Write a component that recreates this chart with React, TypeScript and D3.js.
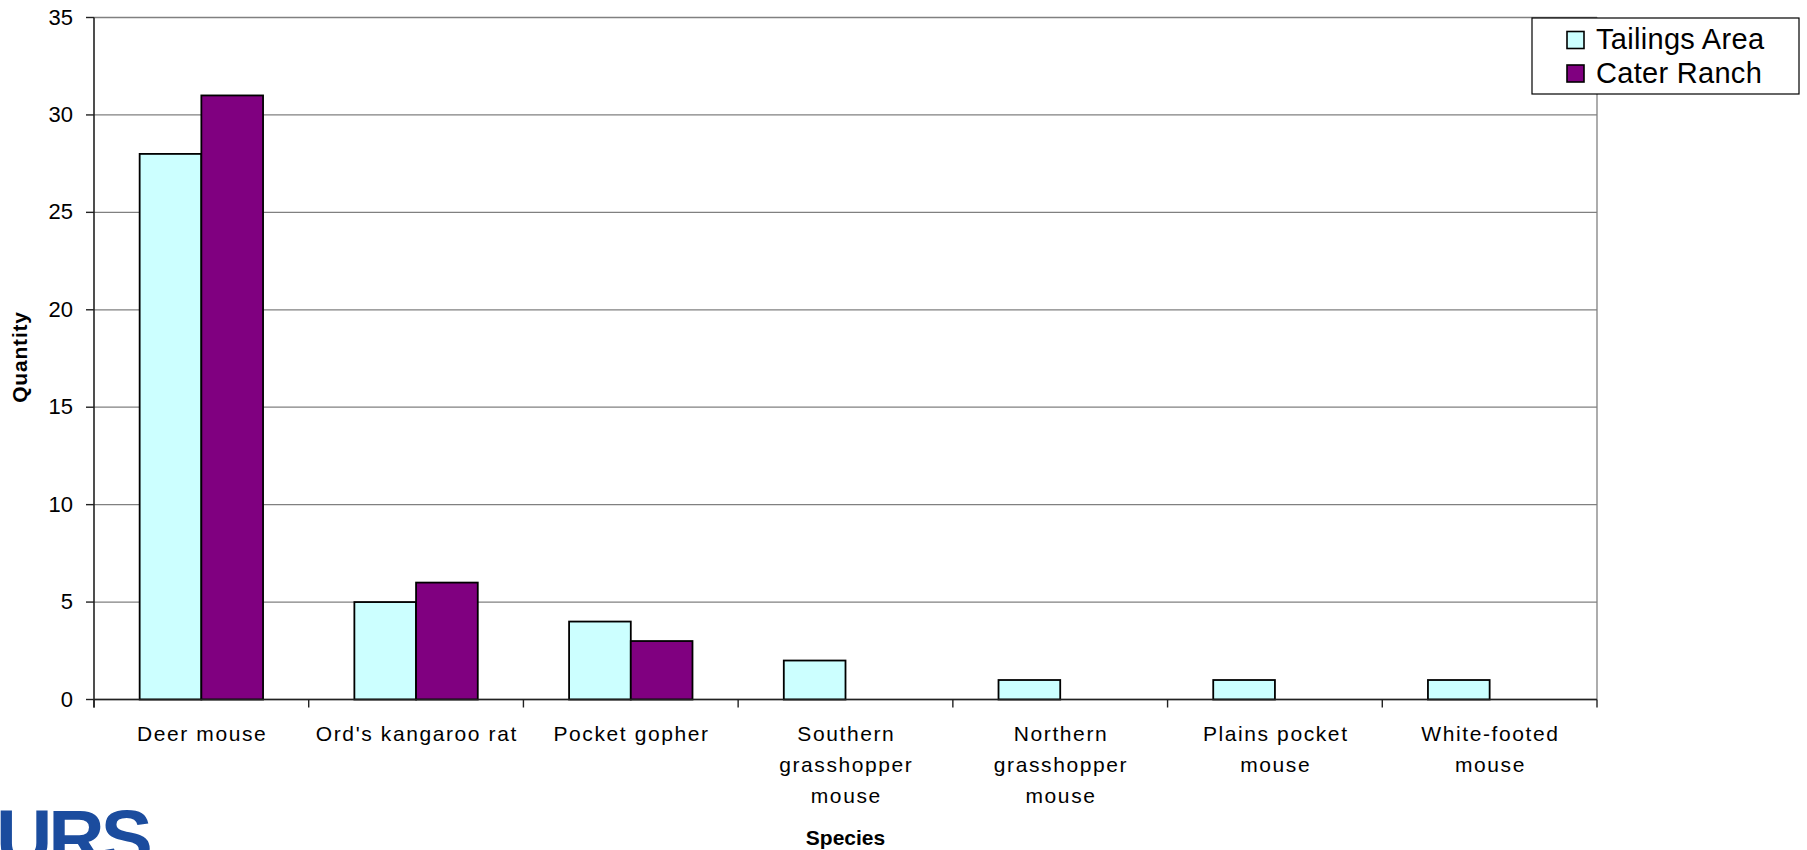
import React from 'react';
import * as d3 from 'd3';

const categories = [
  "Deer mouse",
  "Ord's kangaroo rat",
  "Pocket gopher",
  "Southern grasshopper mouse",
  "Northern grasshopper mouse",
  "Plains pocket mouse",
  "White-footed mouse",
];
const categoryLabelLines = [
  ["Deer mouse"],
  ["Ord's kangaroo rat"],
  ["Pocket gopher"],
  ["Southern", "grasshopper", "mouse"],
  ["Northern", "grasshopper", "mouse"],
  ["Plains pocket", "mouse"],
  ["White-footed", "mouse"],
];
const seriesNames = ["Tailings Area", "Cater Ranch"];
const tailingsArea = [28, 5, 4, 2, 1, 1, 1];
const caterRanch = [31, 6, 3, 0, 0, 0, 0];
const seriesColors = ["#CCFFFF", "#800080"];
const yTicks = [0, 5, 10, 15, 20, 25, 30, 35];

const W = 1807;
const H = 850;
const FONT = "'Liberation Sans', Arial, sans-serif";

export default function App() {
  const left = 94, right = 1597, top = 17.5, bottom = 699.5;
  const x0 = d3.scaleBand<string>().domain(categories).range([left, right]).paddingInner(0).paddingOuter(0);
  const x1 = d3.scaleBand<string>().domain(seriesNames).range([0, x0.bandwidth()]).paddingInner(0).paddingOuter(0.74);
  const y = d3.scaleLinear().domain([0, 35]).range([bottom, top]);
  const seriesValues = [tailingsArea, caterRanch];
  const boundaries = categories.map((c) => x0(c) as number).concat([right]);

  return (
    <svg width={W} height={H} style={{ position: 'absolute', left: 0, top: 0, background: '#fff' }} fontFamily={FONT}>
      <rect x={0} y={0} width={W} height={H} fill="#fff" />
      {/* gridlines */}
      {yTicks.map((t) => (
        <line key={'g' + t} x1={left} x2={right} y1={y(t)} y2={y(t)} stroke="#808080" strokeWidth={1.3} />
      ))}
      {/* right border */}
      <line x1={right} x2={right} y1={top} y2={bottom} stroke="#808080" strokeWidth={1.3} />
      {/* bars */}
      {categories.map((c, i) => (
        <g key={c} transform={`translate(${x0(c)},0)`}>
          {seriesNames.map((s, j) => {
            const v = seriesValues[j][i];
            if (v <= 0) return null;
            return (
              <rect key={s} x={x1(s)} y={y(v)} width={x1.bandwidth()} height={y(0) - y(v)}
                fill={seriesColors[j]} stroke="#000" strokeWidth={1.8} />
            );
          })}
        </g>
      ))}
      {/* y axis */}
      <line x1={left} x2={left} y1={top} y2={bottom + 8} stroke="#222" strokeWidth={1.6} />
      {yTicks.map((t) => (
        <g key={'y' + t}>
          <line x1={left - 8} x2={left} y1={y(t)} y2={y(t)} stroke="#222" strokeWidth={1.4} />
          <text x={73} y={y(t) + 7} textAnchor="end" fontSize={22} fill="#000">{t}</text>
        </g>
      ))}
      {/* x axis */}
      <line x1={left} x2={right} y1={bottom} y2={bottom} stroke="#222" strokeWidth={1.6} />
      {boundaries.map((b, i) => (
        <line key={'xt' + i} x1={b} x2={b} y1={bottom} y2={bottom + 8} stroke="#222" strokeWidth={1.4} />
      ))}
      {categories.map((c, i) => (
        <text key={'xl' + c} textAnchor="middle" fontSize={21} letterSpacing={1.6} fill="#000">
          {categoryLabelLines[i].map((ln, k) => (
            <tspan key={k} x={(x0(c) as number) + x0.bandwidth() / 2 + 0.8} y={741 + k * 31}>{ln}</tspan>
          ))}
        </text>
      ))}
      {/* axis titles */}
      <text x={(left + right) / 2} y={845} textAnchor="middle" fontSize={21} fontWeight="bold" fill="#000">Species</text>
      <text transform={`translate(27,357) rotate(-90)`} textAnchor="middle" fontSize={21} fontWeight="bold" letterSpacing={0.8} fill="#000">Quantity</text>
      {/* legend */}
      <g>
        <rect x={1532} y={18} width={267} height={76} fill="#fff" stroke="#000" strokeWidth={1.2} />
        {seriesNames.map((s, j) => (
          <g key={'lg' + s}>
            <rect x={1567} y={31.5 + j * 33.5} width={17} height={17} fill={seriesColors[j]} stroke="#000" strokeWidth={1.6} />
            <text x={1596} y={48.5 + j * 34} fontSize={29} letterSpacing={0.3} fill="#000">{s}</text>
          </g>
        ))}
      </g>
      {/* logo */}
      <text x={-4} y={864} fontSize={78} fontWeight={900} letterSpacing={-4} fill="#1B4C9E" fontFamily="'Liberation Sans', Arial, sans-serif">URS</text>
    </svg>
  );
}
